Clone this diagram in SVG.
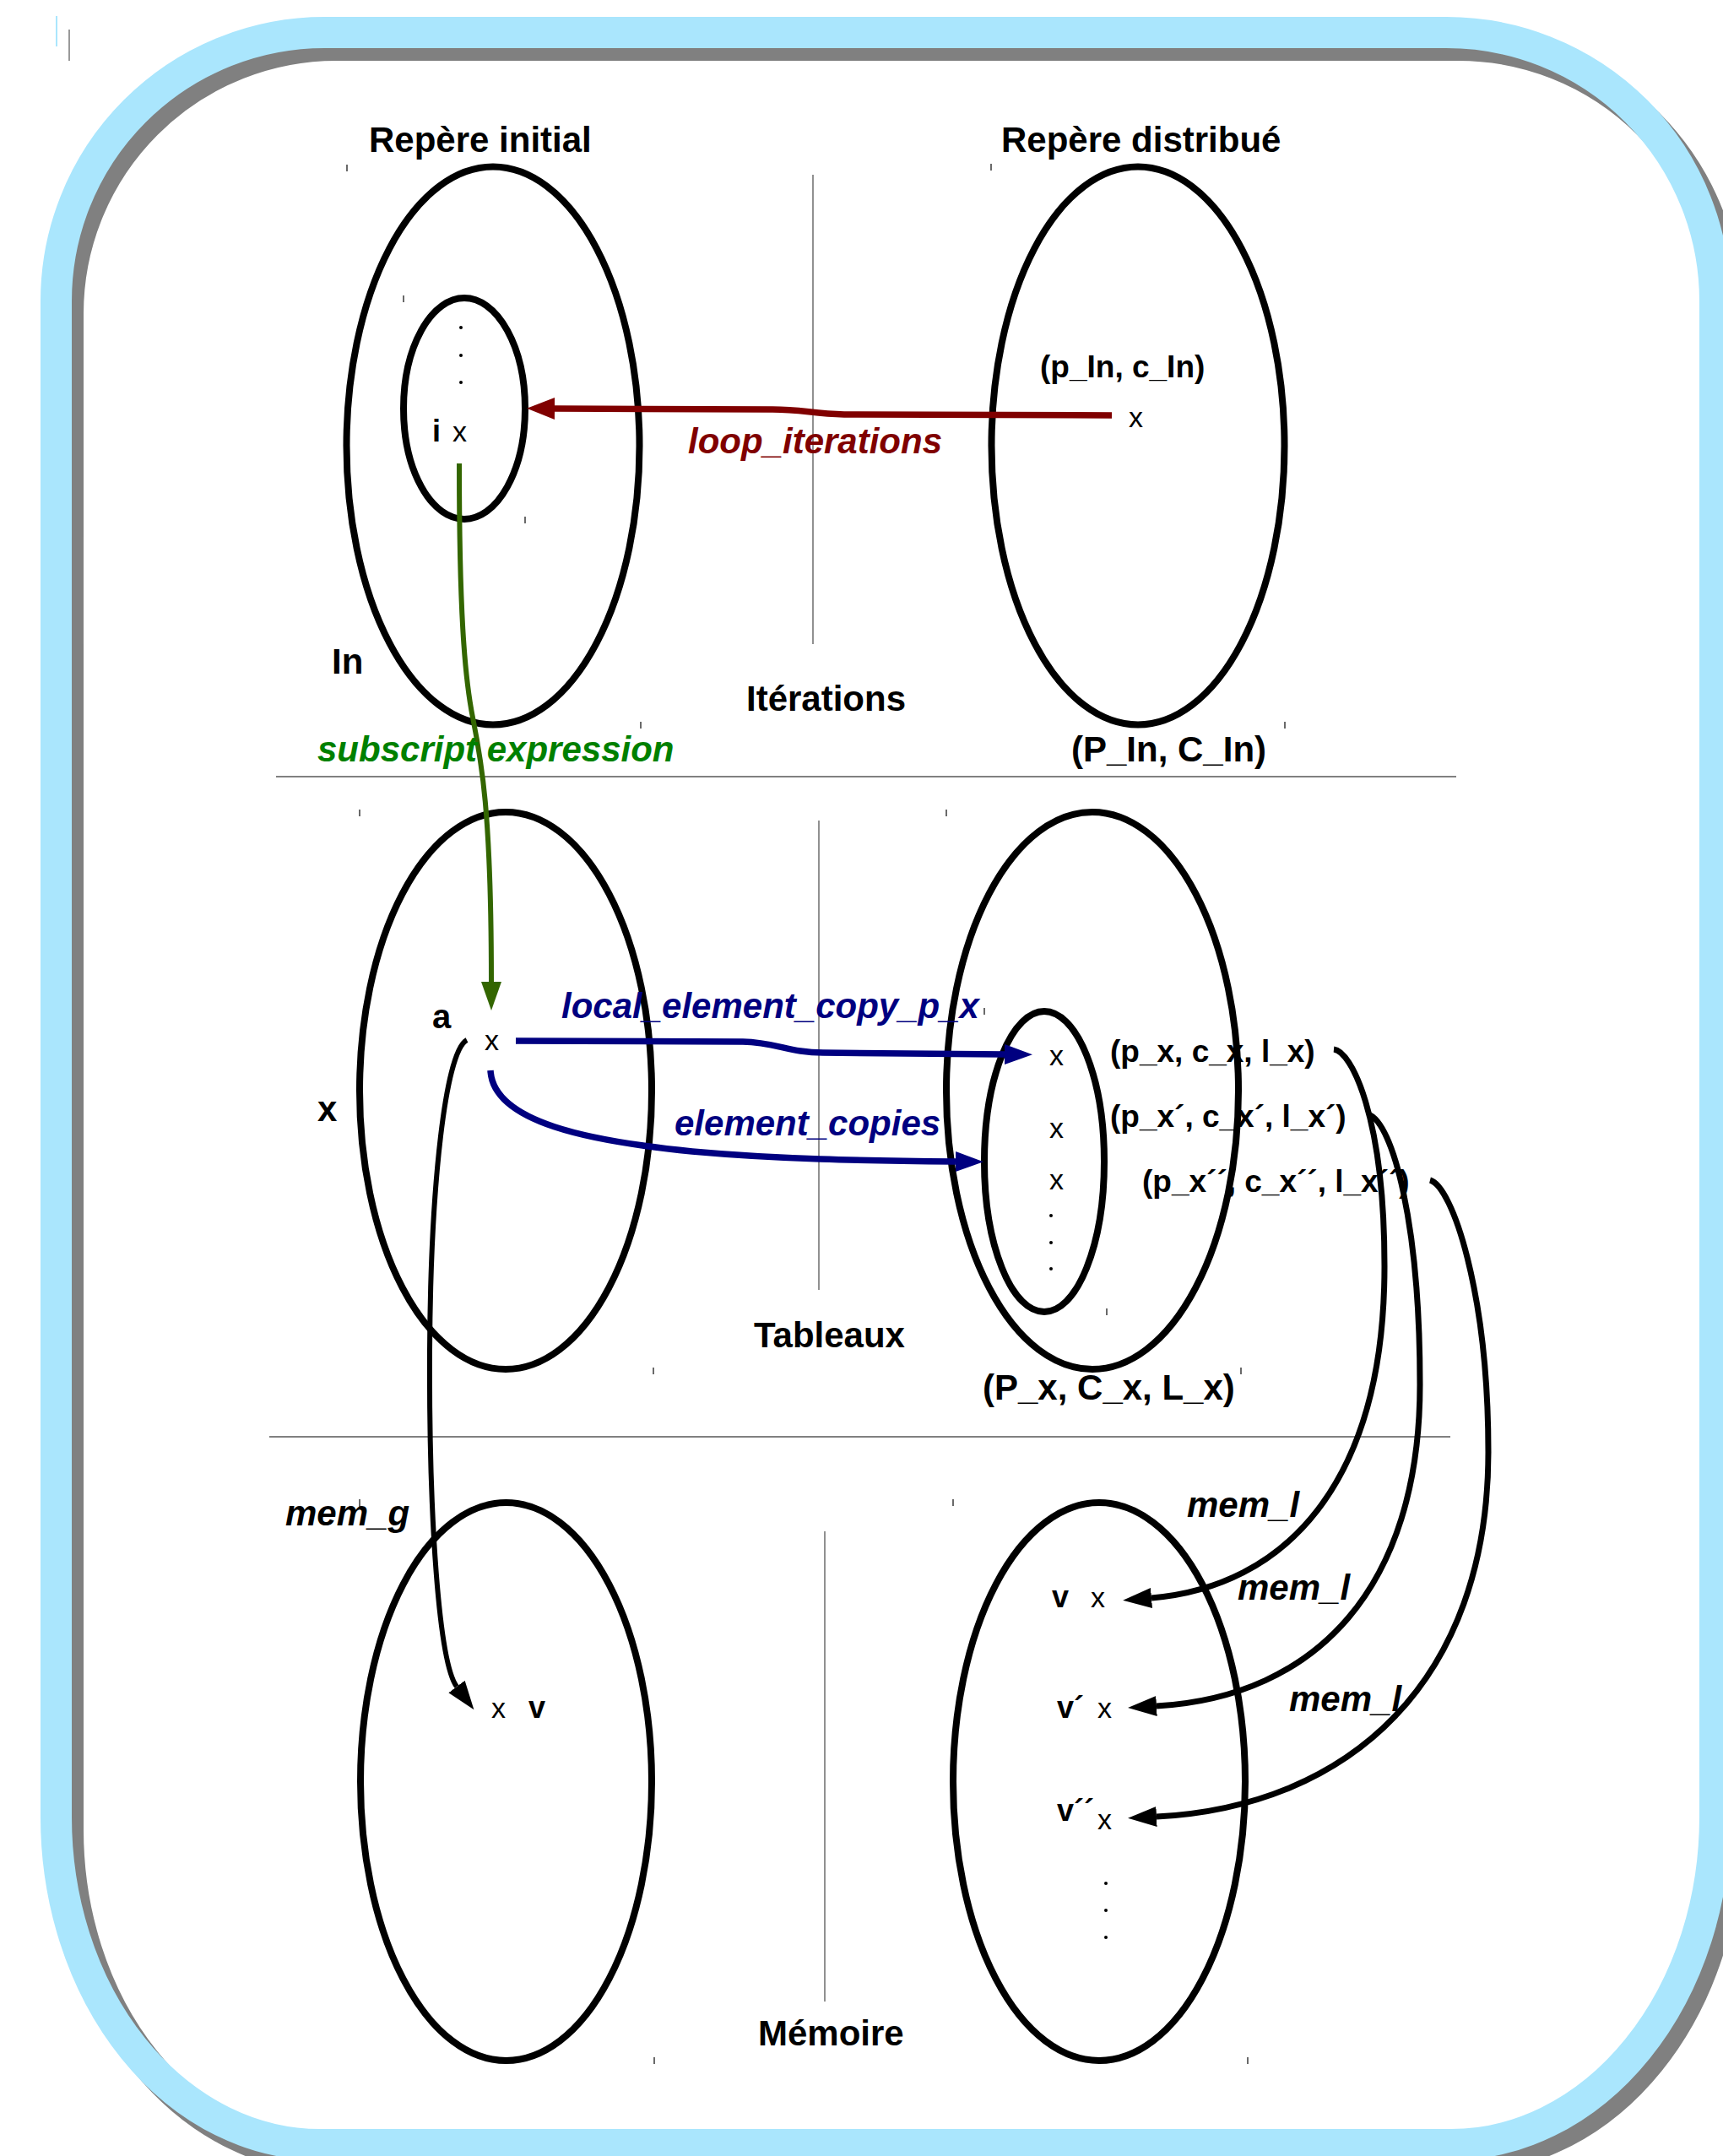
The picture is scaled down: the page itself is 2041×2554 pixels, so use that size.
<svg xmlns="http://www.w3.org/2000/svg" xmlns:xlink="http://www.w3.org/1999/xlink" width="2041" height="2554" viewBox="0 0 2041 2554">
<style>
.t{font-family:"Liberation Sans",Arial,sans-serif;fill:#000}
.b{font-weight:bold}
.it{font-style:italic}
.f42{font-size:42px}
.f37{font-size:37px}
.f36{font-size:36px}
.f34{font-size:34px}
.ell{fill:none;stroke:#000;stroke-width:8}
.div{stroke:#808080;stroke-width:2}
.vdiv{stroke:#555;stroke-width:1.3}
.tick{stroke:#444;stroke-width:1.6}
.dot{fill:#000}
.red{fill:#800000}
.navy{fill:#000080}
.grn{fill:#008000}
</style>
<defs>
<path id="framePath" d="M 384.5 38.5 H 1713.5 A 318 318 0 0 1 2031.5 356.5 V 2152.5 A 313 388 0 0 1 1718.5 2540.5 H 379.5 A 313 388 0 0 1 66.5 2152.5 V 356.5 A 318 318 0 0 1 384.5 38.5 Z"/>
<marker id="hRed" markerUnits="userSpaceOnUse" markerWidth="34" markerHeight="26" refX="0" refY="13" orient="auto"><path d="M0,0 L33,13 L0,26 z" fill="#800000"/></marker>
<marker id="hGreen" markerUnits="userSpaceOnUse" markerWidth="35" markerHeight="24" refX="0" refY="12" orient="auto"><path d="M0,0 L34,12 L0,24 z" fill="#336600"/></marker>
<marker id="hNavy" markerUnits="userSpaceOnUse" markerWidth="34" markerHeight="26" refX="0" refY="13" orient="auto"><path d="M0,1 L33,13 L0,25 z" fill="#000080"/></marker>
<marker id="hBlack" markerUnits="userSpaceOnUse" markerWidth="35" markerHeight="26" refX="0" refY="13" orient="auto"><path d="M0,1 L34,13 L0,25 z" fill="#000"/></marker>
</defs>
<rect width="2041" height="2554" fill="#fff"/>
<g id="frame">
<use xlink:href="#framePath" transform="translate(14,15)" fill="none" stroke="#808080" stroke-width="37"/>
<use xlink:href="#framePath" fill="none" stroke="#aae6fd" stroke-width="37"/>
<line x1="67" y1="19" x2="67" y2="55" stroke="#aae6fd" stroke-width="2"/>
<line x1="82" y1="35" x2="82" y2="72" stroke="#999" stroke-width="2"/>
</g>
<g id="dividers">
<line class="div" x1="327" y1="920" x2="1725" y2="920"/>
<line class="div" x1="319" y1="1702" x2="1718" y2="1702"/>
<line class="vdiv" x1="963" y1="207" x2="963" y2="763"/>
<line class="vdiv" x1="970" y1="972" x2="970" y2="1528"/>
<line class="vdiv" x1="977" y1="1814" x2="977" y2="2371"/>
</g>
<g id="ticks">
<line class="tick" x1="411" y1="195" x2="411" y2="203"/>
<line class="tick" x1="759" y1="855" x2="759" y2="863"/>
<line class="tick" x1="478" y1="350" x2="478" y2="358"/>
<line class="tick" x1="622" y1="612" x2="622" y2="620"/>
<line class="tick" x1="1174" y1="194" x2="1174" y2="202"/>
<line class="tick" x1="1522" y1="855" x2="1522" y2="863"/>
<line class="tick" x1="426" y1="959" x2="426" y2="967"/>
<line class="tick" x1="774" y1="1620" x2="774" y2="1628"/>
<line class="tick" x1="1121" y1="959" x2="1121" y2="967"/>
<line class="tick" x1="1470" y1="1620" x2="1470" y2="1628"/>
<line class="tick" x1="1166" y1="1194" x2="1166" y2="1202"/>
<line class="tick" x1="1311" y1="1550" x2="1311" y2="1558"/>
<line class="tick" x1="426" y1="1776" x2="426" y2="1785"/>
<line class="tick" x1="1129" y1="1776" x2="1129" y2="1784"/>
<line class="tick" x1="775" y1="2437" x2="775" y2="2445"/>
<line class="tick" x1="1478" y1="2437" x2="1478" y2="2445"/>
</g>
<g id="section-labels">
<text class="t b f42" x="884" y="842">Itérations</text>
<text class="t b f42" x="893" y="1596">Tableaux</text>
<text class="t b f42" x="898" y="2423">Mémoire</text>
</g>
<g id="node-initial-iterations">
<text class="t b f42" x="437" y="180">Repère initial</text>
<ellipse class="ell" cx="584" cy="528" rx="173.5" ry="330.5"/>
<text class="t b f42" x="393" y="798">In</text>
</g>
<g id="node-iteration-i">
<ellipse class="ell" cx="550" cy="484" rx="72" ry="131"/>
<circle class="dot" cx="546" cy="388" r="2"/>
<circle class="dot" cx="546" cy="421" r="2"/>
<circle class="dot" cx="546" cy="453" r="2"/>
<text class="t b f36" x="512" y="523">i</text>
<text class="t f34" x="536" y="523">x</text>
</g>
<g id="node-distributed-iterations">
<text class="t b f42" x="1186" y="180">Repère distribué</text>
<ellipse class="ell" cx="1348" cy="528" rx="173.5" ry="330.5"/>
<text class="t b f37" x="1232" y="447">(p_In, c_In)</text>
<text class="t f34" x="1337" y="506">x</text>
<text class="t b f42" x="1269" y="902">(P_In, C_In)</text>
</g>
<g id="node-array-initial">
<ellipse class="ell" cx="599" cy="1292" rx="173" ry="330"/>
<text class="t b f42" x="376" y="1328">x</text>
<text class="t b" style="font-size:40px" x="512" y="1218">a</text>
<text class="t f34" x="574" y="1244">x</text>
</g>
<g id="node-array-distributed">
<text class="t b f37" x="1315" y="1258">(p_x, c_x, l_x)</text>
<text class="t b f37" x="1315" y="1335">(p_x´, c_x´, l_x´)</text>
<text class="t b f37" x="1353" y="1412">(p_x´´, c_x´´, l_x´´)</text>
<ellipse class="ell" cx="1294" cy="1292" rx="173" ry="330"/>
<text class="t b f42" x="1164" y="1658">(P_x, C_x, L_x)</text>
</g>
<g id="node-array-copies">
<ellipse class="ell" cx="1237" cy="1376" rx="71" ry="178"/>
<text class="t f34" x="1243" y="1262">x</text>
<text class="t f34" x="1243" y="1348">x</text>
<text class="t f34" x="1243" y="1409">x</text>
<circle class="dot" cx="1245" cy="1440" r="2"/>
<circle class="dot" cx="1245" cy="1472" r="2"/>
<circle class="dot" cx="1245" cy="1503" r="2"/>
</g>
<g id="node-memory-global">
<ellipse class="ell" cx="599.5" cy="2110.5" rx="172.5" ry="330.5"/>
<text class="t f34" x="582" y="2035">x</text>
<text class="t b f36" x="626" y="2035">v</text>
</g>
<g id="node-memory-local">
<ellipse class="ell" cx="1302" cy="2110.5" rx="173" ry="330.5"/>
<text class="t b f36" x="1246" y="1904">v</text>
<text class="t f34" x="1292" y="1904">x</text>
<text class="t b f36" x="1252" y="2035">v´</text>
<text class="t f34" x="1300" y="2035">x</text>
<text class="t b f36" x="1252" y="2157">v´´</text>
<text class="t f34" x="1300" y="2167">x</text>
<circle class="dot" cx="1310" cy="2231" r="2"/>
<circle class="dot" cx="1310" cy="2263" r="2"/>
<circle class="dot" cx="1310" cy="2295" r="2"/>
</g>
<g id="connectors" fill="none">
<path d="M 1317 492 L 1000 491 C 962 490, 950 485, 915 485 L 657 484" stroke="#800000" stroke-width="7.5" marker-end="url(#hRed)"/>
<path d="M 544 549 C 544 720, 550 800, 560 850 S 582 960, 582 1163" stroke="#336600" stroke-width="6" marker-end="url(#hGreen)"/>
<path d="M 611 1233 L 880 1234 C 920 1235, 935 1247, 975 1247 L 1190 1249" stroke="#000080" stroke-width="7.5" marker-end="url(#hNavy)"/>
<path d="M 581 1268 C 584 1330, 700 1352, 820 1364 C 920 1373, 1020 1375, 1132 1376" stroke="#000080" stroke-width="7.5" marker-end="url(#hNavy)"/>
<path d="M 1580 1243 C 1600 1245, 1640 1320, 1640 1500 C 1640 1760, 1520 1880, 1364 1893" stroke="#000" stroke-width="7" marker-end="url(#hBlack)"/>
<path d="M 1621 1320 C 1650 1330, 1682 1450, 1682 1640 C 1682 1880, 1560 2010, 1370 2021" stroke="#000" stroke-width="7" marker-end="url(#hBlack)"/>
<path d="M 1694 1398 C 1720 1405, 1763 1530, 1763 1720 C 1763 1990, 1600 2140, 1370 2152" stroke="#000" stroke-width="7" marker-end="url(#hBlack)"/>
<path d="M 553 1232 C 528 1245, 510 1400, 509 1600 C 508 1800, 520 1970, 541 1998" stroke="#000" stroke-width="6" marker-end="url(#hBlack)"/>
</g>
<g id="connector-labels">
<text class="t b it f42 red" x="815" y="537">loop_iterations</text>
<text class="t b it f42 grn" x="376" y="902">subscript expression</text>
<text class="t b it f42 navy" x="665" y="1206">local_element_copy_p_x</text>
<text class="t b it f42 navy" x="799" y="1345">element_copies</text>
<text class="t b it f42" x="338" y="1807">mem_g</text>
<text class="t b it f42" x="1406" y="1797">mem_l</text>
<text class="t b it f42" x="1466" y="1895">mem_l</text>
<text class="t b it f42" x="1527" y="2027">mem_l</text>
</g>
</svg>
